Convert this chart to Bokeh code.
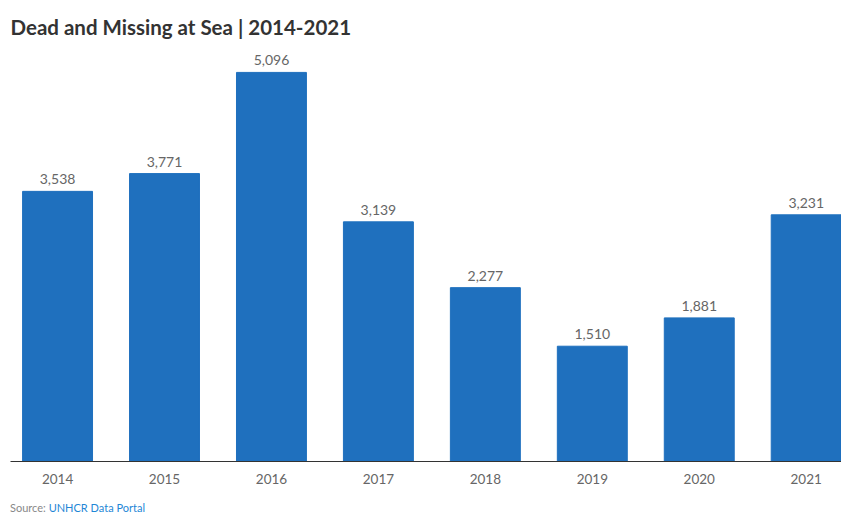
from bokeh.plotting import figure
from bokeh.models import ColumnDataSource, FixedTicker, Range1d, Div
from bokeh.layouts import column
from bokeh.core.properties import value
from bokeh.embed import file_html
from bokeh.resources import INLINE

years = ["2014", "2015", "2016", "2017", "2018", "2019", "2020", "2021"]
dead_missing = [3538, 3771, 5096, 3139, 2277, 1510, 1881, 3231]
source_prefix = "Source:"
source_name = "UNHCR Data Portal"

idx = list(range(len(years)))
labels = [f"{v:,}" for v in dead_missing]
src = ColumnDataSource(dict(x=idx, top=dead_missing, lab=labels))

p = figure(width=841, height=497, output_backend="svg", toolbar_location=None,
           x_range=Range1d(-0.44, 7.33), y_range=Range1d(0, 5370),
           min_border_left=10, min_border_right=0, min_border_top=50,
           min_border_bottom=36, title="Dead and Missing at Sea | 2014-2021")

p.vbar(x="x", top="top", width=0.654, source=src, color="#1f70be")
p.text(x="x", y="top", text="lab", source=src, text_align="center",
       text_baseline="bottom", y_offset=-7, text_font=value("Lato"),
       text_font_size="14px", text_color="#666666")

p.title.text_font = "Lato"
p.title.text_font_size = "20.5px"
p.title.text_font_style = "bold"
p.title.text_color = "#333333"
p.title.align = "left"
p.title.standoff = 25

p.yaxis.visible = False
p.grid.visible = False
p.outline_line_color = None

xa = p.xaxis[0]
xa.ticker = FixedTicker(ticks=idx)
xa.major_label_overrides = {i: y for i, y in zip(idx, years)}
xa.major_tick_line_color = None
xa.minor_tick_line_color = None
xa.axis_line_color = "#333333"
xa.major_label_text_font = "Lato"
xa.major_label_text_font_size = "13.5px"
xa.major_label_text_color = "#666666"
xa.major_label_standoff = 6

div = Div(text=f'{source_prefix} <span style="color:#1f87d6">{source_name}</span>',
          width=831, height=18, margin=(0, 0, 0, 10),
          styles={"font-family": "Lato", "font-size": "11px", "color": "#888888",
                  "line-height": "13px", "padding-top": "4px"})

layout = column(p, div, spacing=0)
open("out.html", "w").write(file_html(layout, INLINE))
